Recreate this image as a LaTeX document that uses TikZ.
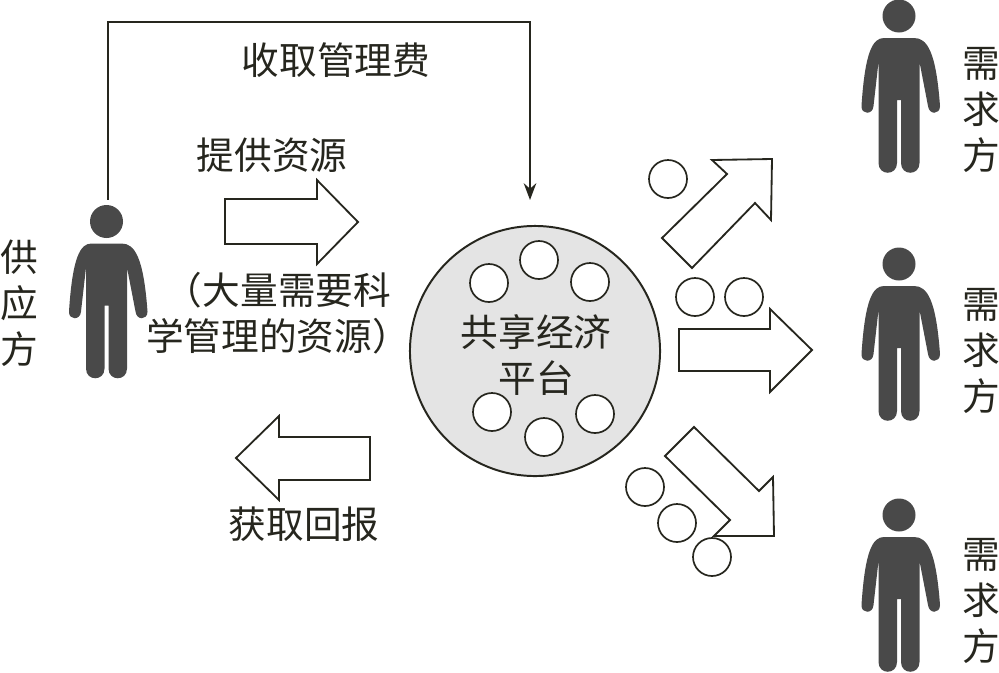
\documentclass[tikz,border=0pt]{standalone}
\usepackage{fontspec}
\usepackage{xcolor}
\usetikzlibrary{positioning,arrows.meta,calc}
\newfontfamily\cjk{Noto Sans CJK SC}
\definecolor{inkDark}{HTML}{26261E}
\definecolor{personGrey}{HTML}{494949}
\definecolor{platGrey}{HTML}{E4E4E4}

\begin{document}
\begin{tikzpicture}[
    x=0.025cm, y=-0.025cm,
    labelText/.style={font=\cjk\fontsize{26.8}{32.8}\selectfont, text=inkDark, align=center, inner sep=0pt},
    ballNode/.style={circle, draw=inkDark, line width=1.2pt, fill=white, minimum size=0.95cm, inner sep=0pt},
    blockArrow/.style={draw=inkDark, line width=1.3pt, line join=miter, fill=white},
    feeLine/.style={-{Stealth[length=12pt,width=9pt,inset=4pt]}, line width=1.1pt, draw=inkDark},
    person/.pic={
        \fill[personGrey] (0,0) circle[radius=16.5];
        \fill[personGrey] (-15,22) .. controls (-26,22) and (-34,35) .. (-37.5,90)
            .. controls (-38,99) and (-26,99) .. (-25.5,90) -- (-20.5,46)
            -- (-20.5,147) .. controls (-20.5,160) and (-2,160) .. (-2,147)
            -- (-2,84) -- (2,84) -- (2,147)
            .. controls (2,160) and (20.5,160) .. (20.5,147) -- (20.5,46)
            -- (29,90) .. controls (30,99) and (41,99) .. (41,90)
            .. controls (37,35) and (28,22) .. (15,22) -- cycle;
        \coordinate (-top) at (1.5,-22);
    }
]
    \useasboundingbox (0,0) rectangle (999,672);

    % Persone
    \pic (supplier) at (106.5,221.5) {person};
    \pic (demandA) at (899,16) {person};
    \pic (demandB) at (899,264) {person};
    \pic (demandC) at (899,515) {person};

    % Piattaforma
    \node[circle, draw=inkDark, line width=1.4pt, fill=platGrey, minimum size=6.25cm, inner sep=0pt] (plat) at (535,351) {};
    \node[labelText] (platText) at (536,355) {共享经济\\平台};

    % Frecce a blocco
    \draw[blockArrow] (225,199) -- (317,199) -- (317,180) -- (358,222) -- (317,264) -- (317,244) -- (225,244) -- cycle;
    \draw[blockArrow] (370,437) -- (279,437) -- (279,416) -- (236,458) -- (279,500) -- (279,480) -- (370,480) -- cycle;
    \draw[blockArrow] (712,160) -- (772,159) -- (771,220) -- (755,203) -- (692,268) -- (662,238) -- (727,174) -- cycle;
    \draw[blockArrow] (679,329) -- (770,329) -- (770,309) -- (812,350) -- (770,392) -- (770,371) -- (679,371) -- cycle;
    \draw[blockArrow] (694,427) -- (759,491) -- (773,477) -- (774,536) -- (714,536) -- (730,520) -- (665,456) -- cycle;

    % Cerchietti
    \foreach \px/\py/\pname in {489/283/a, 539/260/b, 590/282/c, 492/412/d, 544/437/e, 595/414/f, 668/179/g, 695/297/h, 744/297/i, 645/487/j, 677/523/k, 712/557/l}
        \node[ballNode] (ball\pname) at (\px,\py) {};

    % Etichette
    \node[labelText] (feeText) at (336,60) {收取管理费};
    \node[labelText] (provideText) at (272,155) {提供资源};
    \node[labelText] (noteText) at (278,313) {（大量需要科\\学管理的资源）};
    \node[labelText] (returnText) at (304,524) {获取回报};
    \node[labelText] (supplierText) at (19,303) {供\\应\\方};
    \node[labelText] (demandTextA) at (981,110) {需\\求\\方};
    \node[labelText] (demandTextB) at (981,351) {需\\求\\方};
    \node[labelText] (demandTextC) at (981,601) {需\\求\\方};

    % Collegamento
    \coordinate (feeCorner) at (530,22);
    \coordinate (feeEnd) at (530,200);
    \draw[feeLine] (supplier-top) |- (feeCorner) -- (feeEnd);
\end{tikzpicture}
\end{document}
